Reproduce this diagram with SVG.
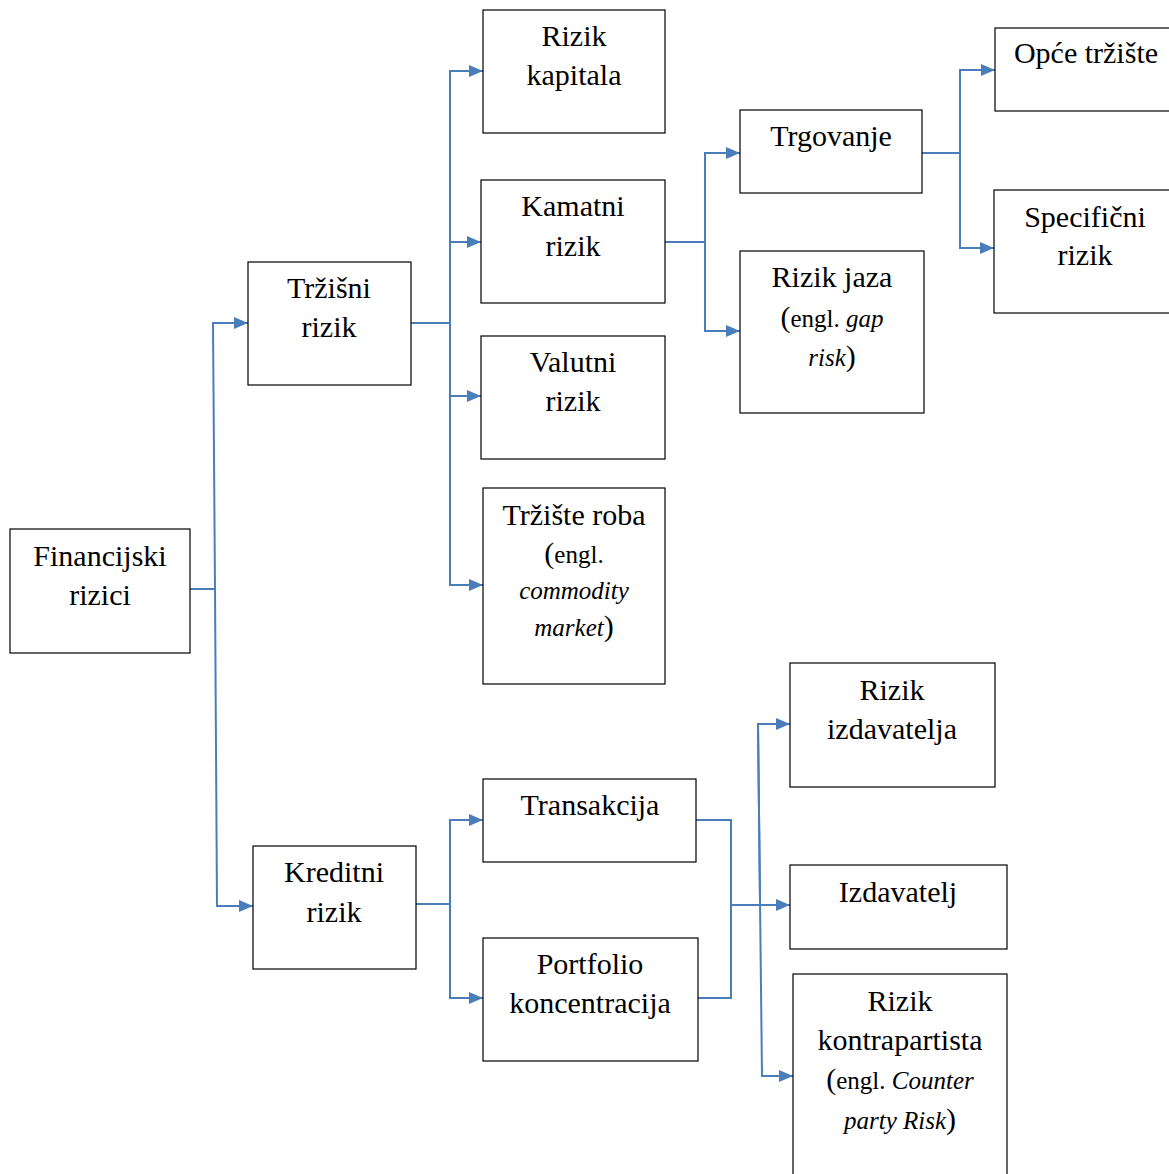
<svg xmlns="http://www.w3.org/2000/svg" width="1169" height="1174" viewBox="0 0 1169 1174">
<style>
.box{fill:#fff;stroke:#000;stroke-width:1.2}
.t{font-family:"Liberation Serif","Times New Roman",serif;font-size:30px;fill:#000;text-anchor:middle}
.s{font-size:25px}
.i{font-style:italic}
.c{fill:none;stroke:#4A7EBB;stroke-width:2}
.a{marker-end:url(#arr)}
</style>
<defs>
<marker id="arr" viewBox="0 0 14 12" refX="14" refY="6" markerWidth="14" markerHeight="12" markerUnits="userSpaceOnUse" orient="auto">
<path d="M0,0 L14,6 L0,12 z" fill="#4A7EBB"/>
</marker>
</defs>
<rect width="1169" height="1174" fill="#fff"/>
<g id="connectors">
<path class="c" d="M190,589 H216"/>
<path class="c a" d="M215,589 L213,323 H248"/>
<path class="c a" d="M215,589 L217,906 H253"/>
<path class="c" d="M411,323 H450"/>
<path class="c a" d="M450,323 V71 H483"/>
<path class="c a" d="M450,323 V242 H481"/>
<path class="c a" d="M450,323 V396 H481"/>
<path class="c a" d="M450,323 V585 H483"/>
<path class="c" d="M665,242 H705"/>
<path class="c a" d="M705,242 V153 H740"/>
<path class="c a" d="M705,242 V331 H740"/>
<path class="c" d="M922,153 H960"/>
<path class="c a" d="M960,153 V70 H995"/>
<path class="c a" d="M960,153 V248 H994"/>
<path class="c" d="M416,904 H450"/>
<path class="c a" d="M450,904 V820 H483"/>
<path class="c a" d="M450,904 V998 H483"/>
<path class="c" d="M696,820 H731 V998 H698"/>
<path class="c a" d="M731,905 H790"/>
<path class="c a" d="M760,900 L758,724 H790"/>
<path class="c a" d="M758,724 L762,1076 H793"/>
</g>
<g id="n-financijski"><rect class="box" x="10" y="529" width="180" height="124"/>
<text class="t" x="100" y="566">Financijski</text><text class="t" x="100" y="605">rizici</text></g>
<g id="n-trzisni"><rect class="box" x="248" y="262" width="163" height="123"/>
<text class="t" x="329" y="298">Tržišni</text><text class="t" x="329" y="337">rizik</text></g>
<g id="n-kreditni"><rect class="box" x="253" y="846" width="163" height="123"/>
<text class="t" x="334" y="882">Kreditni</text><text class="t" x="334" y="922">rizik</text></g>
<g id="n-kapital"><rect class="box" x="483" y="10" width="182" height="123"/>
<text class="t" x="574" y="46">Rizik</text><text class="t" x="574" y="85">kapitala</text></g>
<g id="n-kamatni"><rect class="box" x="481" y="180" width="184" height="123"/>
<text class="t" x="573" y="216">Kamatni</text><text class="t" x="573" y="256">rizik</text></g>
<g id="n-valutni"><rect class="box" x="481" y="336" width="184" height="123"/>
<text class="t" x="573" y="372">Valutni</text><text class="t" x="573" y="411">rizik</text></g>
<g id="n-roba"><rect class="box" x="483" y="488" width="182" height="196"/>
<text class="t" x="574" y="525">Tržište roba</text>
<text class="t" x="574" y="563">(<tspan class="s">engl.</tspan></text>
<text class="t s i" x="574" y="599">commodity</text>
<text class="t" x="574" y="636"><tspan class="s i">market</tspan>)</text></g>
<g id="n-trgovanje"><rect class="box" x="740" y="110" width="182" height="83"/>
<text class="t" x="831" y="146">Trgovanje</text></g>
<g id="n-jaz"><rect class="box" x="740" y="251" width="184" height="162"/>
<text class="t" x="832" y="287">Rizik jaza</text>
<text class="t" x="832" y="327">(<tspan class="s">engl. </tspan><tspan class="s i">gap</tspan></text>
<text class="t" x="832" y="366"><tspan class="s i">risk</tspan>)</text></g>
<g id="n-opce"><rect class="box" x="995" y="28" width="180" height="83"/>
<text class="t" x="1086" y="63">Opće tržište</text></g>
<g id="n-specificni"><rect class="box" x="994" y="190" width="180" height="123"/>
<text class="t" x="1085" y="227">Specifični</text><text class="t" x="1085" y="265">rizik</text></g>
<g id="n-transakcija"><rect class="box" x="483" y="779" width="213" height="83"/>
<text class="t" x="590" y="815">Transakcija</text></g>
<g id="n-portfolio"><rect class="box" x="483" y="938" width="215" height="123"/>
<text class="t" x="590" y="974">Portfolio</text><text class="t" x="590" y="1013">koncentracija</text></g>
<g id="n-rizik-izdavatelja"><rect class="box" x="790" y="663" width="205" height="124"/>
<text class="t" x="892" y="700">Rizik</text><text class="t" x="892" y="739">izdavatelja</text></g>
<g id="n-izdavatelj"><rect class="box" x="790" y="865" width="217" height="84"/>
<text class="t" x="898" y="902">Izdavatelj</text></g>
<g id="n-kontrapartista"><rect class="box" x="793" y="974" width="214" height="210"/>
<text class="t" x="900" y="1011">Rizik</text><text class="t" x="900" y="1050">kontrapartista</text>
<text class="t" x="900" y="1089">(<tspan class="s">engl. </tspan><tspan class="s i">Counter</tspan></text>
<text class="t" x="900" y="1129"><tspan class="s i">party Risk</tspan>)</text></g>
</svg>
